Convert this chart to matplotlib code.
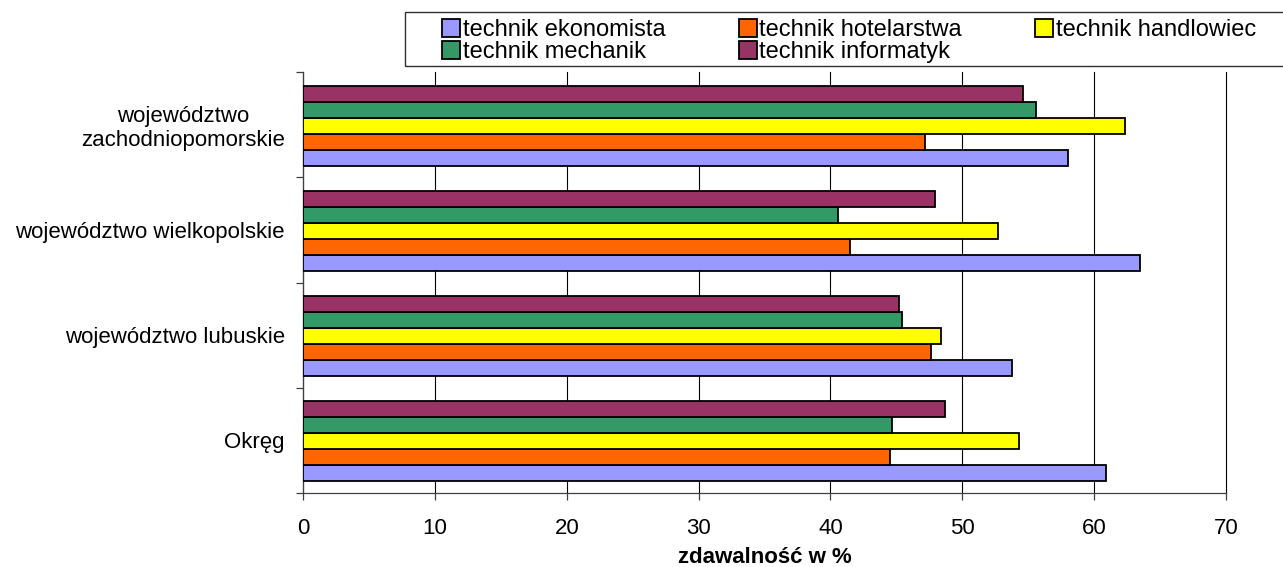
import numpy as np
import matplotlib
matplotlib.use('Agg')
import matplotlib.pyplot as plt
from matplotlib.patches import Rectangle

plt.rcParams['font.family'] = ['Liberation Sans', 'DejaVu Sans']

regiony = ['Okręg', 'województwo lubuskie', 'województwo wielkopolskie',
           'województwo\nzachodniopomorskie']
zawody = ['technik ekonomista', 'technik hotelarstwa', 'technik handlowiec',
          'technik mechanik', 'technik informatyk']
kolory = ['#9999FF', '#FF6600', '#FFFF00', '#339966', '#993366']

ekonomista = [60.9, 53.8, 63.5, 58.0]
hotelarstwa = [44.5, 47.6, 41.5, 47.2]
handlowiec = [54.3, 48.4, 52.7, 62.3]
mechanik = [44.7, 45.4, 40.6, 55.6]
informatyk = [48.7, 45.2, 47.9, 54.6]
serie = [ekonomista, hotelarstwa, handlowiec, mechanik, informatyk]

fig = plt.figure(figsize=(12.83, 5.67), dpi=100)
ax = fig.add_axes([0.2362, 0.1305, 0.7194, 0.7425])

h = 0.152
srodki = np.arange(len(regiony)) + 0.5
bary = []
for k, (vals, kol) in enumerate(zip(serie, kolory)):
    b = ax.barh(srodki + (k - 2) * h - 0.01, vals, height=h, color=kol,
                edgecolor='black', linewidth=1.3, label=zawody[k], zorder=3)
    bary.append(b)

ax.set_xlim(0, 70)
ax.set_ylim(0, 4)
ax.set_xticks(range(0, 71, 10))
ax.grid(axis='x', color='black', linewidth=0.8, zorder=0)
for gl in ax.get_xgridlines():
    gl.set_clip_on(False)
ax.set_yticks(range(5))
ax.set_yticklabels([])
ax.set_yticks(srodki, minor=True)
ax.set_yticklabels(regiony, minor=True, fontsize=16)
for t in ax.get_yticklabels(minor=True):
    t.set_multialignment('center')
ax.tick_params(axis='y', which='major', length=5, direction='out', width=0.9,
               color='#404040')
ax.tick_params(axis='y', which='minor', length=0, pad=13)
ax.tick_params(axis='x', length=5, width=0.9, pad=13, labelsize=16,
               color='#404040')

for s in ['top', 'right']:
    ax.spines[s].set_visible(False)
ax.spines['left'].set_linewidth(0.9)
ax.spines['bottom'].set_linewidth(0.9)
ax.spines['left'].set_color('#404040')
ax.spines['bottom'].set_color('#404040')

ax.set_xlabel('zdawalność w %', fontsize=16, fontweight='bold', labelpad=6)

# legenda: kolejnosc kolumnami
kol_order = [0, 3, 1, 4, 2]
leg = fig.legend([bary[i] for i in kol_order], [zawody[i] for i in kol_order],
                 ncol=3, loc='center left', bbox_to_anchor=(0.3445, 0.927),
                 frameon=False, fontsize=17, handlelength=0.76,
                 handleheight=0.76, handletextpad=0.12, columnspacing=3.1,
                 labelspacing=0.0, borderaxespad=0, borderpad=0)
fig.patches.append(Rectangle((0.3157, 0.8836), 0.7, 0.0952,
                             transform=fig.transFigure, fill=False,
                             edgecolor='#303030', linewidth=1))

fig.savefig('out.png', dpi=100)
